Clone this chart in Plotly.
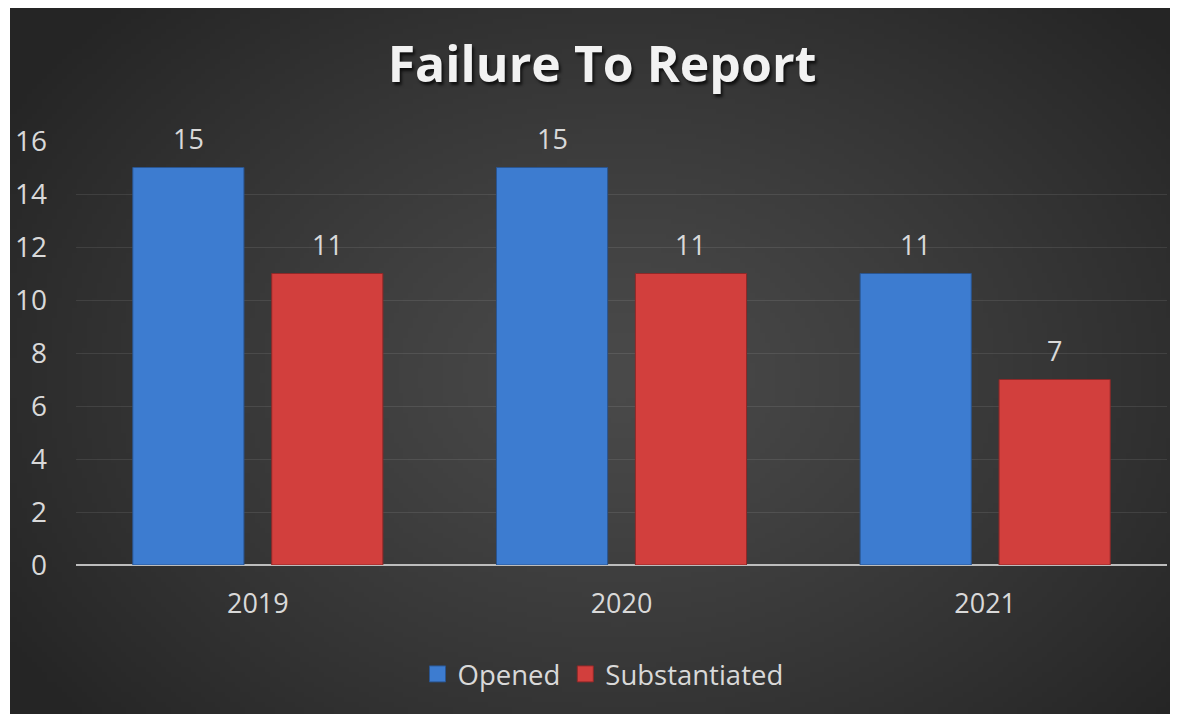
import base64, struct, zlib
import numpy as np
import plotly.graph_objects as go

years = ["2019", "2020", "2021"]
opened = [15, 15, 11]
substantiated = [11, 11, 7]
series_names = ["Opened", "Substantiated"]
y_ticks = [0, 2, 4, 6, 8, 10, 12, 14, 16]

OFF = 8  # page body margin
W, H = 1178 - OFF, 714 - OFF
ML, MR, MT = 76 - OFF, 1178 - 1167, 141 - OFF
MB = H - (565 - OFF)
PW, PH = W - ML - MR, H - MT - MB
BARGAP, GROUPGAP = 0.236, 0.2
COLORS = ["#3d7cd0", "#d23f3d"]
EDGES = ["#2a5590", "#8f2828"]

def png_data_uri(w, h):
    yy, xx = np.mgrid[0:h, 0:w]
    cx, cy = w * 0.52, h * 0.52
    d = np.sqrt(((xx - cx) / (w * 0.62)) ** 2 + ((yy - cy) / (h * 0.75)) ** 2)
    d = np.clip(d, 0, 1)
    inner, outer = 74, 37
    v = (inner + (outer - inner) * d ** 1.2).astype(np.uint8)
    rgb = np.stack([v, v, v], axis=-1)
    raw = b"".join(b"\x00" + rgb[r].tobytes() for r in range(h))
    def chunk(t, data):
        c = struct.pack(">I", len(data)) + t + data
        return c + struct.pack(">I", zlib.crc32(t + data) & 0xffffffff)
    png = b"\x89PNG\r\n\x1a\n" + chunk(b"IHDR", struct.pack(">IIBBBBB", w, h, 8, 2, 0, 0, 0)) \
        + chunk(b"IDAT", zlib.compress(raw, 9)) + chunk(b"IEND", b"")
    return "data:image/png;base64," + base64.b64encode(png).decode()

def px_to_paper_x(px):
    return (px - OFF - ML) / PW

def px_to_paper_y(py):
    return 1 - (py - OFF - MT) / PH

FONT = "Open Sans"
fig = go.Figure()
for name, vals, c, e in zip(series_names, [opened, substantiated], COLORS, EDGES):
    fig.add_trace(go.Bar(x=years, y=vals, name=name, showlegend=False,
                         marker=dict(color=c, line=dict(color=e, width=1))))
# legend entries with larger square swatches
for name, c, e in zip(series_names, COLORS, EDGES):
    fig.add_trace(go.Scatter(x=[None], y=[None], mode="markers", name=name,
                             marker=dict(symbol="square", size=17, color=c, line=dict(color=e, width=1))))

slot_px = PW / len(years) * (1 - BARGAP) / 2
annotations = []
for i, vals in enumerate([opened, substantiated]):
    for j, v in enumerate(vals):
        annotations.append(dict(x=j, y=v, xref="x", yref="y", text=str(v), showarrow=False,
                                xshift=(i - 0.5) * slot_px, yshift=29, yanchor="middle",
                                font=dict(family=FONT, size=27, color="#d9d9d9")))

x0, x1 = px_to_paper_x(10), px_to_paper_x(1178)
y1, y0 = px_to_paper_y(7), px_to_paper_y(714)

fig.update_layout(
    width=W, height=H,
    margin=dict(l=ML, r=MR, t=MT, b=MB, autoexpand=False),
    paper_bgcolor="white", plot_bgcolor="rgba(0,0,0,0)",
    barmode="group", bargap=BARGAP, bargroupgap=GROUPGAP,
    title=dict(text="<b>Failure To Report</b>", x=px_to_paper_x(602), xref="paper", xanchor="center",
               y=1 - (64 - OFF) / H, yanchor="middle",
               font=dict(family=FONT, size=50, color="#f2f2f2", shadow="2px 3px 3px rgba(0,0,0,0.7)")),
    font=dict(family=FONT, color="#d9d9d9"),
    xaxis=dict(type="category", showgrid=False, tickfont=dict(size=27, color="#d9d9d9"), ticks="",
               showline=False, zeroline=False, ticklabelstandoff=20),
    yaxis=dict(range=[0, 16], tickvals=y_ticks, showgrid=True, gridcolor="rgba(255,255,255,0.09)",
               gridwidth=1, zeroline=True, zerolinecolor="#bdbdbd", zerolinewidth=2,
               tickfont=dict(size=28, color="#d9d9d9"), ticks="", ticklabelstandoff=28),
    legend=dict(orientation="h", x=px_to_paper_x(603), xanchor="center", y=px_to_paper_y(674), yanchor="middle",
                font=dict(family=FONT, size=27.5, color="#d9d9d9"), bgcolor="rgba(0,0,0,0)",
                itemwidth=30, itemsizing="trace"),
    images=[dict(source=png_data_uri(236, 142), xref="paper", yref="paper", x=x0, y=y1,
                 sizex=x1 - x0, sizey=y1 - y0, sizing="stretch", layer="below", xanchor="left", yanchor="top")],
    annotations=annotations,
)
fig.write_html("out.html")
